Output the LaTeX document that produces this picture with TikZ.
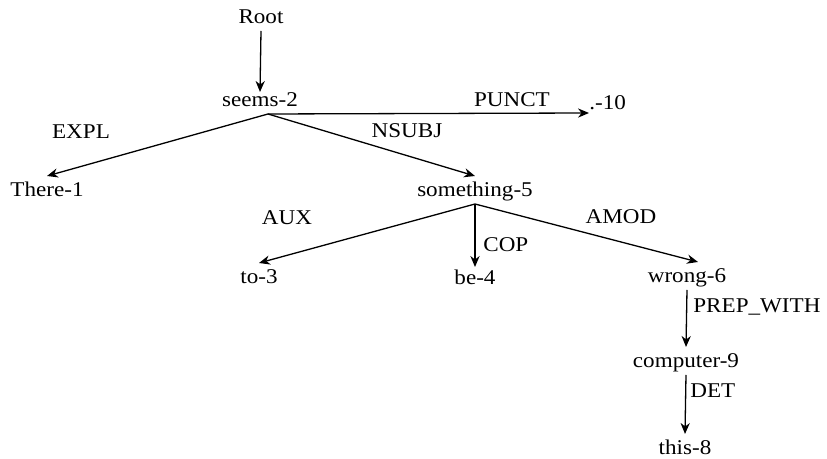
\documentclass[tikz,border=0pt]{standalone}
\usepackage{fontspec}
\setmainfont{Liberation Serif}[FakeStretch=1.1]
\usetikzlibrary{arrows.meta,positioning}

\begin{document}
\begin{tikzpicture}[
    x=0.5pt, y=-0.5pt,
    word/.style={inner sep=0pt, outer ysep=3.5pt, text height=7pt, text depth=0pt, anchor=base, font=\fontsize{10.5}{12}\selectfont},
    rel/.style={inner sep=0pt, anchor=base, font=\fontsize{10.5}{12}\selectfont},
    dep/.style={-{Stealth[length=5.5pt, width=4.6pt, inset=1.8pt]}, line width=0.65pt}
]
    \useasboundingbox (0,0) rectangle (827,459);

    % words
    \node[word] (root) at (261,24) {Root};
    \node[word] (seems) at (260,107) {seems-2};
    \node[word, anchor=base west] (punct) at (589,110) {.-10};
    \node[word] (there) at (47,197) {There-1};
    \node[word] (something) at (475,197) {something-5};
    \node[word] (to) at (259,284) {to-3};
    \node[word] (be) at (475,285) {be-4};
    \node[word] (wrong) at (687,283) {wrong-6};
    \node[word] (computer) at (686,368) {computer-9};
    \node[word] (this) at (685,455) {this-8};

    % relations
    \node[rel] (lpunct) at (512,107) {PUNCT};
    \node[rel] (lnsubj) at (407,138) {NSUBJ};
    \node[rel] (lexpl) at (81,139) {EXPL};
    \node[rel] (laux) at (287,225) {AUX};
    \node[rel] (lamod) at (621,224) {AMOD};
    \node[rel, anchor=base west] (lcop) at (483,252) {COP};
    \node[rel, anchor=base west] (lprep) at (693,313) {PREP\_WITH};
    \node[rel, anchor=base west] (ldet) at (690,398) {DET};

    % arcs
    \draw[dep] (root.south) -- ([yshift=-3pt]seems.north);
    \draw[dep] ([xshift=4pt]seems.south) -- (there.north);
    \draw[dep] ([xshift=4pt]seems.south) -- (something.north);
    \draw[dep] ([xshift=4pt]seems.south) -- ([yshift=-1.5pt]punct.base west);
    \draw[dep] (something.south) -- (to.north);
    \draw[dep] (something.south) -- ([yshift=-1.5pt]be.north);
    \draw[dep] (something.south) -- ([xshift=5.5pt]wrong.north);
    \draw[dep] (wrong.south) -- (computer.north);
    \draw[dep] (computer.south) -- (this.north);
\end{tikzpicture}
\end{document}
